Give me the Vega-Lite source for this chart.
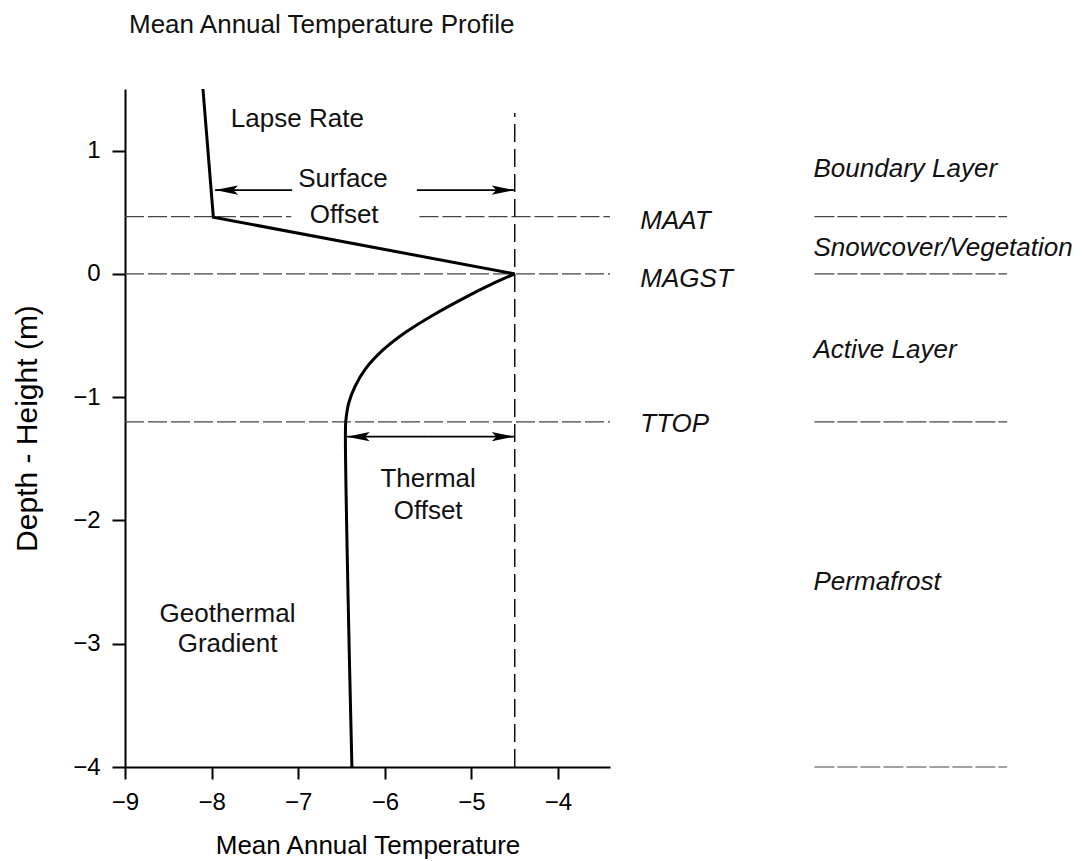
{
  "$schema": "https://vega.github.io/schema/vega-lite/v6.json",
  "width": 485,
  "height": 678,
  "autosize": {"type": "none"},
  "padding": {"left": 125, "top": 89, "right": 472, "bottom": 94},
  "background": "white",
  "config": {
    "view": {"stroke": null},
    "font": "Liberation Sans",
    "axis": {
      "grid": false,
      "labelFlush": false,
      "domainColor": "black",
      "domainWidth": 2,
      "tickColor": "black",
      "tickWidth": 2,
      "labelFont": "Liberation Sans",
      "labelFontSize": 24,
      "labelColor": "black",
      "titleFont": "Liberation Sans",
      "titleFontSize": 26,
      "titleFontWeight": "normal",
      "titleColor": "black"
    }
  },
  "title": {
    "text": "Mean Annual Temperature Profile",
    "anchor": "start",
    "frame": "group",
    "fontSize": 26,
    "fontWeight": "normal",
    "font": "Liberation Sans",
    "color": "#111111",
    "baseline": "alphabetic",
    "offset": 24,
    "dx": 4
  },
  "datasets": {
    "profile": [
      {"i": 0, "seg": "air", "t": -8.10, "d": 1.50},
      {"i": 1, "seg": "air", "t": -7.98, "d": 0.46},
      {"i": 2, "seg": "air", "t": -4.50, "d": 0.00},
      {"i": 2, "seg": "ground", "t": -4.50, "d": 0.00},
      {"i": 3, "seg": "ground", "t": -4.76, "d": -0.081},
      {"i": 4, "seg": "ground", "t": -5.07, "d": -0.19},
      {"i": 5, "seg": "ground", "t": -5.455, "d": -0.339},
      {"i": 6, "seg": "ground", "t": -5.76, "d": -0.474},
      {"i": 7, "seg": "ground", "t": -6.03, "d": -0.623},
      {"i": 8, "seg": "ground", "t": -6.225, "d": -0.772},
      {"i": 9, "seg": "ground", "t": -6.34, "d": -0.907},
      {"i": 10, "seg": "ground", "t": -6.415, "d": -1.043},
      {"i": 11, "seg": "ground", "t": -6.45, "d": -1.19},
      {"i": 12, "seg": "ground", "t": -6.455, "d": -1.312},
      {"i": 13, "seg": "ground", "t": -6.425, "d": -2.6},
      {"i": 14, "seg": "ground", "t": -6.38, "d": -4.0}
    ],
    "levels": [
      {"name": "MAAT", "t": -9, "t2": -7.08, "d": 0.464},
      {"name": "MAAT", "t": -5.6, "t2": -3.4, "d": 0.464},
      {"name": "MAGST", "t": -9, "t2": -3.4, "d": 0},
      {"name": "TTOP", "t": -9, "t2": -3.4, "d": -1.2}
    ],
    "zoneLines": [
      {"t": -1.04, "t2": 1.185, "d": 0.464},
      {"t": -1.04, "t2": 1.185, "d": 0},
      {"t": -1.04, "t2": 1.185, "d": -1.2},
      {"t": -1.04, "t2": 1.185, "d": -4}
    ],
    "magst": [
      {"t": -4.5, "d": -4, "d2": 1.305}
    ],
    "arrows": [
      {"arrow": "Surface Offset", "dir": "left", "t": -7.96, "t2": -7.07, "d": 0.68},
      {"arrow": "Surface Offset", "dir": "right", "t": -4.5, "t2": -5.63, "d": 0.68},
      {"arrow": "Thermal Offset", "dir": "left", "t": -6.44, "t2": -5.5, "d": -1.32},
      {"arrow": "Thermal Offset", "dir": "right", "t": -4.5, "t2": -5.5, "d": -1.32}
    ],
    "annotations": [
      {"label": "Lapse Rate", "t": -7.01, "d": 1.257},
      {"label": "Surface", "t": -6.483, "d": 0.766},
      {"label": "Offset", "t": -6.47, "d": 0.478},
      {"label": "Thermal", "t": -5.5, "d": -1.66},
      {"label": "Offset", "t": -5.5, "d": -1.92},
      {"label": "Geothermal", "t": -7.816, "d": -2.759},
      {"label": "Gradient", "t": -7.816, "d": -3.006}
    ],
    "levelLabels": [
      {"label": "MAAT", "t": -3.05, "d": 0.432},
      {"label": "MAGST", "t": -3.05, "d": -0.041},
      {"label": "TTOP", "t": -3.05, "d": -1.218}
    ],
    "zones": [
      {"label": "Boundary Layer", "t": -1.05, "d": 0.849},
      {"label": "Snowcover/Vegetation", "t": -1.05, "d": 0.208},
      {"label": "Active Layer", "t": -1.05, "d": -0.616},
      {"label": "Permafrost", "t": -1.05, "d": -2.502}
    ]
  },
  "encoding": {
    "x": {
      "field": "t",
      "type": "quantitative",
      "scale": {"domain": [-9, -3.4], "nice": false, "zero": false},
      "axis": {
        "title": "Mean Annual Temperature",
        "values": [-9, -8, -7, -6, -5, -4],
        "tickSize": 12,
        "labelPadding": 11,
        "titlePadding": 18
      }
    },
    "y": {
      "field": "d",
      "type": "quantitative",
      "scale": {"domain": [-4, 1.5], "nice": false, "zero": false},
      "axis": {
        "title": "Depth - Height (m)",
        "titleFontSize": 30,
        "values": [-4, -3, -2, -1, 0, 1],
        "tickSize": 13,
        "labelPadding": 12,
        "titlePadding": 30
      }
    }
  },
  "layer": [
    {
      "data": {"name": "levels"},
      "mark": {"type": "rule", "color": "#444444", "strokeWidth": 1.2, "strokeDash": [19, 4]},
      "encoding": {"x2": {"field": "t2"}}
    },
    {
      "data": {"name": "zoneLines"},
      "mark": {"type": "rule", "color": "#444444", "strokeWidth": 1.2, "strokeDash": [20, 3]},
      "encoding": {"x2": {"field": "t2"}}
    },
    {
      "data": {"name": "magst"},
      "mark": {"type": "rule", "color": "#111111", "strokeWidth": 1.5, "strokeDash": [18, 7]},
      "encoding": {"y2": {"field": "d2"}}
    },
    {
      "data": {"name": "arrows"},
      "mark": {"type": "rule", "color": "black", "strokeWidth": 1.6},
      "encoding": {"x2": {"field": "t2"}}
    },
    {
      "data": {"name": "arrows"},
      "transform": [{"filter": "datum.dir === 'left'"}],
      "mark": {"type": "point", "shape": "M0,0L2,-0.4L1.6,0L2,0.4Z", "filled": true, "color": "black", "opacity": 1, "size": 529, "strokeWidth": 0}
    },
    {
      "data": {"name": "arrows"},
      "transform": [{"filter": "datum.dir === 'right'"}],
      "mark": {"type": "point", "shape": "M0,0L-2,-0.4L-1.6,0L-2,0.4Z", "filled": true, "color": "black", "opacity": 1, "size": 529, "strokeWidth": 0}
    },
    {
      "data": {"name": "profile"},
      "transform": [{"filter": "datum.seg === 'air'"}],
      "mark": {"type": "line", "color": "black", "strokeWidth": 3, "interpolate": "linear", "strokeJoin": "miter"},
      "encoding": {"order": {"field": "i", "type": "quantitative"}}
    },
    {
      "data": {"name": "profile"},
      "transform": [{"filter": "datum.seg === 'ground'"}],
      "mark": {"type": "line", "color": "black", "strokeWidth": 3, "interpolate": "catmull-rom"},
      "encoding": {"order": {"field": "i", "type": "quantitative"}}
    },
    {
      "data": {"name": "annotations"},
      "mark": {"type": "text", "font": "Liberation Sans", "fontSize": 26, "color": "#111111", "align": "center", "baseline": "middle"},
      "encoding": {"text": {"field": "label"}}
    },
    {
      "data": {"name": "levelLabels"},
      "mark": {"type": "text", "font": "Liberation Sans", "fontSize": 26, "fontStyle": "italic", "color": "#111111", "align": "left", "baseline": "middle"},
      "encoding": {"text": {"field": "label"}}
    },
    {
      "data": {"name": "zones"},
      "mark": {"type": "text", "font": "Liberation Sans", "fontSize": 26, "fontStyle": "italic", "color": "#111111", "align": "left", "baseline": "middle"},
      "encoding": {"text": {"field": "label"}}
    }
  ]
}
